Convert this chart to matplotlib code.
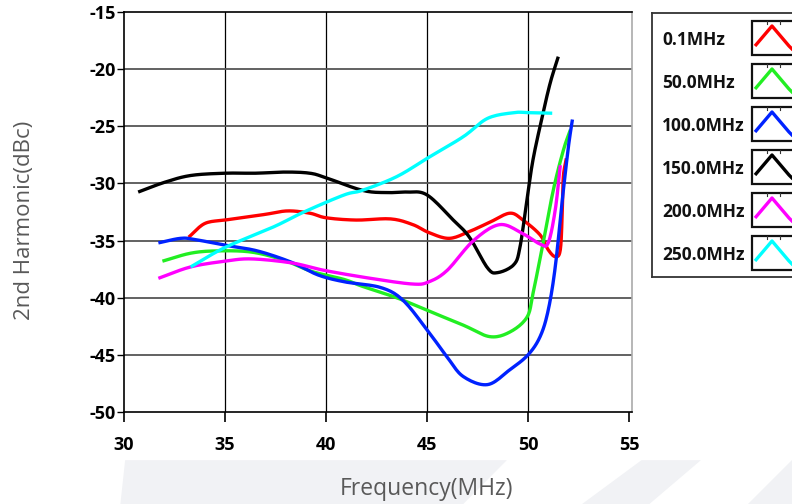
import numpy as np
import matplotlib.pyplot as plt
from matplotlib.patches import Rectangle, Polygon

plt.rcParams['font.family'] = ['Open Sans', 'DejaVu Sans']

# Data (frequency in MHz, 2nd harmonic in dBc)
labels = ['0.1MHz', '50.0MHz', '100.0MHz', '150.0MHz', '200.0MHz', '250.0MHz']
colors = ['#ff0000', '#22ee22', '#0022ff', '#000000', '#ff00ff', '#00ffff']

f_red = [33.2, 34.0, 35.0, 35.8, 37.0, 38.1, 39.2, 40.0, 41.5, 43.2, 44.3, 45.1, 46.1, 47.1, 48.1, 49.1, 49.75, 50.6, 51.0, 51.35, 51.6, 51.7, 51.75, 51.9]
v_red = [-34.7, -33.5, -33.2, -33.0, -32.7, -32.4, -32.6, -33.0, -33.2, -33.1, -33.6, -34.3, -34.8, -34.2, -33.4, -32.6, -33.2, -34.5, -35.8, -36.4, -35.8, -32.3, -29.4, -27.8]

f_green = [31.9, 33.3, 34.6, 36.3, 37.9, 39.3, 40.9, 41.8, 43.5, 45.0, 46.8, 48.1, 49.1, 49.95, 50.25, 50.75, 51.25, 51.75, 52.1]
v_green = [-36.8, -36.1, -35.9, -36.0, -36.7, -37.7, -38.4, -39.0, -40.0, -41.1, -42.4, -43.4, -43.0, -41.7, -39.6, -35.2, -30.6, -27.1, -25.3]

f_blue = [31.7, 32.8, 33.5, 35.0, 36.6, 38.3, 39.6, 40.9, 42.7, 43.8, 45.0, 46.0, 46.8, 48.0, 49.1, 50.0, 50.6, 51.0, 51.35, 51.7, 52.0, 52.2]
v_blue = [-35.2, -34.8, -34.9, -35.4, -35.9, -36.9, -38.0, -38.6, -39.1, -40.2, -42.8, -45.2, -46.9, -47.6, -46.3, -45.0, -43.4, -41.1, -37.3, -31.4, -26.8, -24.4]

f_black = [30.7, 32.0, 33.3, 35.0, 36.5, 38.0, 39.2, 40.0, 41.8, 43.0, 44.0, 45.0, 46.3, 47.1, 48.0, 48.5, 49.3, 49.6, 49.95, 50.25, 50.7, 51.1, 51.5]
v_black = [-30.75, -29.9, -29.3, -29.1, -29.1, -29.0, -29.1, -29.5, -30.6, -30.8, -30.75, -31.0, -33.2, -34.7, -37.4, -37.8, -37.1, -35.6, -31.4, -27.9, -24.2, -21.2, -18.9]

f_magenta = [31.7, 33.3, 35.0, 36.3, 38.3, 39.9, 42.2, 44.3, 45.1, 46.0, 47.3, 48.6, 49.75, 50.6, 51.0, 51.35, 51.6]
v_magenta = [-38.3, -37.3, -36.8, -36.6, -36.95, -37.6, -38.3, -38.8, -38.6, -37.6, -35.0, -33.6, -34.4, -35.3, -35.2, -32.3, -28.4]

f_cyan = [33.3, 35.0, 37.4, 38.9, 40.9, 41.8, 43.5, 45.1, 46.8, 48.0, 49.3, 50.0, 51.2]
v_cyan = [-37.3, -35.6, -33.8, -32.5, -31.0, -30.6, -29.4, -27.7, -25.9, -24.3, -23.8, -23.8, -23.85]

series_f = [f_red, f_green, f_blue, f_black, f_magenta, f_cyan]
series_v = [v_red, v_green, v_blue, v_black, v_magenta, v_cyan]

xticks = [30, 35, 40, 45, 50, 55]
yticks = [-50, -45, -40, -35, -30, -25, -20, -15]


def smooth(x, y, n=12):
    # centripetal-ish Catmull-Rom through the read points
    x = np.asarray(x, float)
    y = np.asarray(y, float)
    px = np.concatenate([[2 * x[0] - x[1]], x, [2 * x[-1] - x[-2]]])
    py = np.concatenate([[2 * y[0] - y[1]], y, [2 * y[-1] - y[-2]]])
    ox, oy = [], []
    t = np.linspace(0, 1, n, endpoint=False)
    for i in range(1, len(px) - 2):
        for arr, out in ((px, ox), (py, oy)):
            p0, p1, p2, p3 = arr[i - 1], arr[i], arr[i + 1], arr[i + 2]
            out.extend(0.5 * (2 * p1 + (-p0 + p2) * t + (2 * p0 - 5 * p1 + 4 * p2 - p3) * t ** 2
                              + (-p0 + 3 * p1 - 3 * p2 + p3) * t ** 3))
    ox.append(x[-1])
    oy.append(y[-1])
    return ox, oy


fig = plt.figure(figsize=(7.92, 5.04), dpi=100)

# faint background watermark at the bottom
wm = '#f1f2f5'
for pts in ([[0.158, 0.087], [0.64, 0.087], [0.585, 0.0], [0.152, 0.0]],
            [[0.81, 0.087], [0.885, 0.087], [0.82, 0.0], [0.735, 0.0]],
            [[1.0, 0.087], [1.0, 0.0], [0.945, 0.0]]):
    fig.patches.append(Polygon(pts, closed=True, transform=fig.transFigure,
                               facecolor=wm, edgecolor='none', zorder=-10))

ax = fig.add_axes([0.1566, 0.1825, 0.6414, 0.7935])

for fx, vy, c, lab in zip(series_f, series_v, colors, labels):
    sx, sy = smooth(fx, vy)
    ax.plot(sx, sy, color=c, lw=2.4, label=lab, solid_capstyle='butt')

ax.set_xlim(30, 55.15)
ax.set_ylim(-50, -15)
ax.set_xticks(xticks)
ax.set_yticks(yticks)
ax.set_xticklabels([str(t) for t in xticks])
ax.set_yticklabels([str(t) for t in yticks])
for lab in ax.get_xticklabels() + ax.get_yticklabels():
    lab.set_fontweight('bold')
    lab.set_fontsize(13)
ax.tick_params(axis='x', direction='out', length=7, width=1.2, pad=10)
ax.tick_params(axis='y', direction='out', length=5, width=1.0, pad=1)

for xv in xticks[1:-1]:
    ax.axvline(xv, color='black', lw=0.9, zorder=0)
for yv in yticks[1:-1]:
    ax.axhline(yv, color='#555555', lw=1.3, zorder=0)

ax.spines['left'].set_color('black')
ax.spines['bottom'].set_color('black')
ax.spines['top'].set_color('black')
ax.spines['right'].set_color('#aaaaaa')
for s in ax.spines.values():
    s.set_linewidth(1.2)

ax.set_xlabel('Frequency(MHz)', color='#595959', fontsize=16.5)
ax.xaxis.set_label_coords(0.596, -0.163)
ax.set_ylabel('2nd Harmonic(dBc)', color='#595959', fontsize=16)
ax.yaxis.set_label_coords(-0.175, 0.478)

# legend panel, drawn in figure pixel units
lax = fig.add_axes([652 / 792, 1 - 277 / 504, 148 / 792, 264 / 504])
lax.set_xlim(652, 800)
lax.set_ylim(277, 13)
lax.set_xticks([])
lax.set_yticks([])
for s in lax.spines.values():
    s.set_color('#333333')
    s.set_linewidth(1.3)
for i, (c, lab) in enumerate(zip(colors, labels)):
    top = 21 + 43 * i
    lax.add_patch(Rectangle((752, top), 44, 34, facecolor='white',
                            edgecolor='#111111', lw=1.6))
    for tx in (767, 780):
        lax.plot([tx, tx], [top, top + 2.5], color='#333333', lw=0.8)
    lax.plot([755, 772, 789, 795], [top + 25, top + 5, top + 25, top + 31],
             color=c, lw=2.4, solid_capstyle='butt')
    lax.text(662, top + 19, lab, fontsize=12.5, fontweight='bold',
             ha='left', va='center', color='#111111')

fig.savefig('out.png', dpi=100)
